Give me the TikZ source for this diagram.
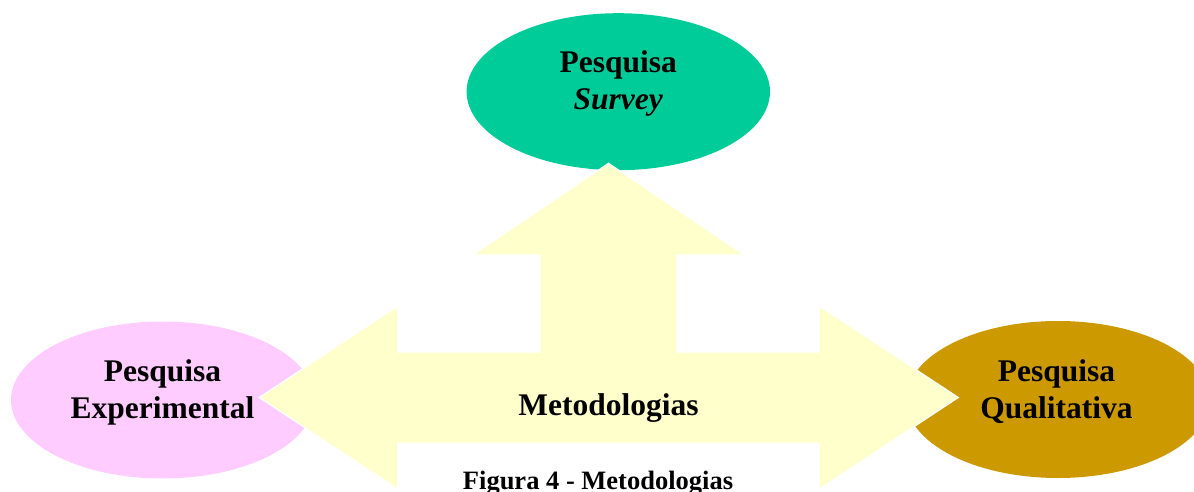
\documentclass[tikz,border=0pt]{standalone}
\usepackage{fontspec}
\setmainfont{Liberation Serif}
\usetikzlibrary{shapes.geometric}
\definecolor{surveyc}{HTML}{00CC99}
\definecolor{expc}{HTML}{FFCCFF}
\definecolor{qualc}{HTML}{CC9900}
\definecolor{arrowc}{HTML}{FFFFCC}
\tikzset{
  blob/.style={ellipse, minimum width=303.4pt, minimum height=157pt, inner sep=0pt, draw=none},
  lbl/.style={align=center, inner sep=0pt, font=\fontsize{31.5}{37}\selectfont\bfseries},
  bigarrow/.style={fill=arrowc, draw=white, line width=1.2pt, line join=miter},
}
\begin{document}
\begin{tikzpicture}[x=1pt,y=-1pt]
\useasboundingbox (0,0) rectangle (1194,492);
% ellipses
\node[blob, fill=surveyc] (survey) at (618.3,91.7) {};
\node[blob, fill=expc] (exper) at (162.7,400) {};
\node[blob, fill=qualc] (quali) at (1058,399.5) {};
% three-way arrow
\draw[bigarrow] (608.5,163.3) -- (744.5,255) -- (677.3,255) -- (677.3,352)
  -- (819.3,352) -- (819.3,306) -- (958.3,397.5) -- (819.3,489) -- (819.3,443.3)
  -- (397.7,443.3) -- (397.7,489) -- (259.3,397.5) -- (397.7,306) -- (397.7,352)
  -- (540,352) -- (540,255) -- (472.7,255) -- cycle;
% texts (base anchor = baseline of the last line)
\node[lbl, anchor=base] (surveyT) at (618.3,110) {Pesquisa\\\itshape Survey};
\node[lbl, anchor=base] (experT) at (162.5,418.3) {Pesquisa\\Experimental};
\node[lbl, anchor=base] (qualiT) at (1056.5,418.3) {Pesquisa\\Qualitativa};
\node[lbl, anchor=base] (metod) at (608.5,415) {Metodologias};
\node[anchor=base, inner sep=0pt, font=\fontsize{26.5}{30}\selectfont\bfseries] (caption) at (598,489.6) {Figura 4 - Metodologias};
\end{tikzpicture}
\end{document}
